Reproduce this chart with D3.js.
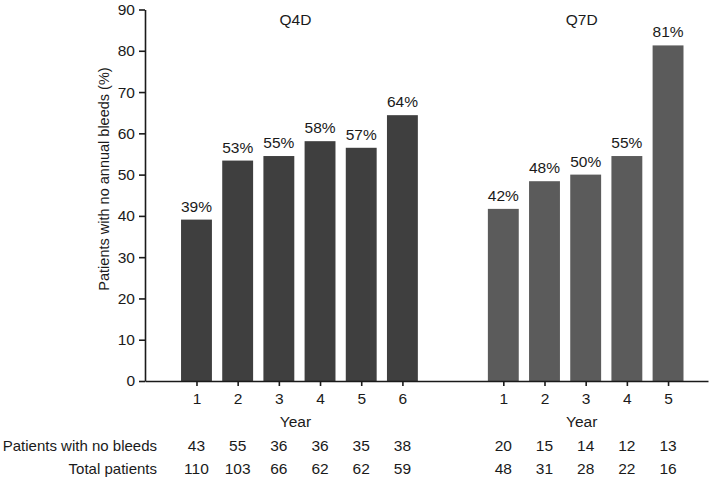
<!DOCTYPE html>
<html>
<head>
<meta charset="utf-8">
<script src="https://cdn.jsdelivr.net/npm/d3@7/dist/d3.min.js"></script>
<style>
  body { margin: 0; background: #fff; }
  svg { display: block; font-family: "Liberation Sans", Arial, Helvetica, sans-serif; }
  text { fill: #1a1a1a; }
</style>
</head>
<body>
<svg id="chart" width="709" height="478"></svg>
<script>
// ---- Data ----
const groupNames = ["Q4D", "Q7D"];
const q4dYears = [1, 2, 3, 4, 5, 6];
const q4dValues = [39.1, 53.4, 54.5, 58.1, 56.5, 64.4];
const q4dLabels = ["39%", "53%", "55%", "58%", "57%", "64%"];
const q4dNoBleeds = [43, 55, 36, 36, 35, 38];
const q4dTotal = [110, 103, 66, 62, 62, 59];

const q7dYears = [1, 2, 3, 4, 5];
const q7dValues = [41.7, 48.4, 50.0, 54.5, 81.3];
const q7dLabels = ["42%", "48%", "50%", "55%", "81%"];
const q7dNoBleeds = [20, 15, 14, 12, 13];
const q7dTotal = [48, 31, 28, 22, 16];

const yTicks = [0, 10, 20, 30, 40, 50, 60, 70, 80, 90];
const yLabel = "Patients with no annual bleeds (%)";
const xLabel = "Year";
const rowLabels = ["Patients with no bleeds", "Total patients"];
const colors = ["#3f3f3f", "#5b5b5b"];

// ---- Build positions (slot index along the x axis) ----
const q7dOffset = 7.45;
const groups = [
  { name: groupNames[0], years: q4dYears, values: q4dValues, labels: q4dLabels, noBleeds: q4dNoBleeds, total: q4dTotal, offset: 0, color: colors[0] },
  { name: groupNames[1], years: q7dYears, values: q7dValues, labels: q7dLabels, noBleeds: q7dNoBleeds, total: q7dTotal, offset: q7dOffset, color: colors[1] }
];
const items = [];
groups.forEach(g => g.years.forEach((yr, i) => items.push({
  group: g, year: yr, pos: yr + g.offset, value: g.values[i], label: g.labels[i],
  noBleeds: g.noBleeds[i], total: g.total[i]
})));

const svg = d3.select("#chart");
const axisX0 = 145, axisX1 = 708, baseY = 381, topY = 9.5;
const fs = 15.5;

const x = d3.scaleLinear().domain([-0.25, 13.42]).range([axisX0, axisX1]);
const y = d3.scaleLinear().domain([0, 90]).range([baseY, topY]);
const unit = x(1) - x(0);
const barW = unit * 0.75;

// Bars
svg.append("g").selectAll("rect").data(items).join("rect")
  .attr("x", d => x(d.pos) - barW / 2)
  .attr("width", barW)
  .attr("y", d => y(d.value))
  .attr("height", d => y(0) - y(d.value))
  .attr("fill", d => d.group.color);

// Percent labels
svg.append("g").selectAll("text").data(items).join("text")
  .attr("x", d => x(d.pos))
  .attr("y", d => y(d.value) - 8)
  .attr("text-anchor", "middle")
  .attr("font-size", fs)
  .text(d => d.label);

// Y axis
const yAxis = svg.append("g")
  .attr("transform", `translate(${axisX0},0)`)
  .call(d3.axisLeft(y).tickValues(yTicks).tickSize(6).tickSizeOuter(0).tickPadding(4));
yAxis.selectAll("text").attr("font-size", fs).attr("fill", "#1a1a1a");
yAxis.selectAll("line, path").attr("stroke", "#1a1a1a").attr("stroke-width", 1.6);

// X axis
const xAxis = svg.append("g")
  .attr("transform", `translate(0,${baseY})`)
  .call(d3.axisBottom(x).tickValues(items.map(d => d.pos))
    .tickFormat((v, i) => items[i].year).tickSize(5).tickSizeOuter(0).tickPadding(7));
xAxis.selectAll("text").attr("font-size", fs).attr("fill", "#1a1a1a");
xAxis.selectAll("line, path").attr("stroke", "#1a1a1a").attr("stroke-width", 1.6);

// Group titles and Year labels
groups.forEach(g => {
  const first = x(g.years[0] + g.offset), last = x(g.years[g.years.length - 1] + g.offset);
  const cx = (first + last) / 2 - 4;
  svg.append("text").attr("x", cx).attr("y", 25).attr("text-anchor", "middle")
    .attr("font-size", fs).text(g.name);
  svg.append("text").attr("x", cx).attr("y", 427).attr("text-anchor", "middle")
    .attr("font-size", fs).text(xLabel);
});

// Y axis title
svg.append("text")
  .attr("transform", `translate(109,179) rotate(-90)`)
  .attr("text-anchor", "middle")
  .attr("font-size", 14.5)
  .text(yLabel);

// Table rows
const rowY = [451, 474];
rowLabels.forEach((lab, r) => {
  svg.append("text").attr("x", 157).attr("y", rowY[r]).attr("text-anchor", "end")
    .attr("font-size", 15).text(lab);
  svg.append("g").selectAll("text").data(items).join("text")
    .attr("x", d => x(d.pos))
    .attr("y", rowY[r])
    .attr("text-anchor", "middle")
    .attr("font-size", fs)
    .text(d => r === 0 ? d.noBleeds : d.total);
});
</script>
</body>
</html>
